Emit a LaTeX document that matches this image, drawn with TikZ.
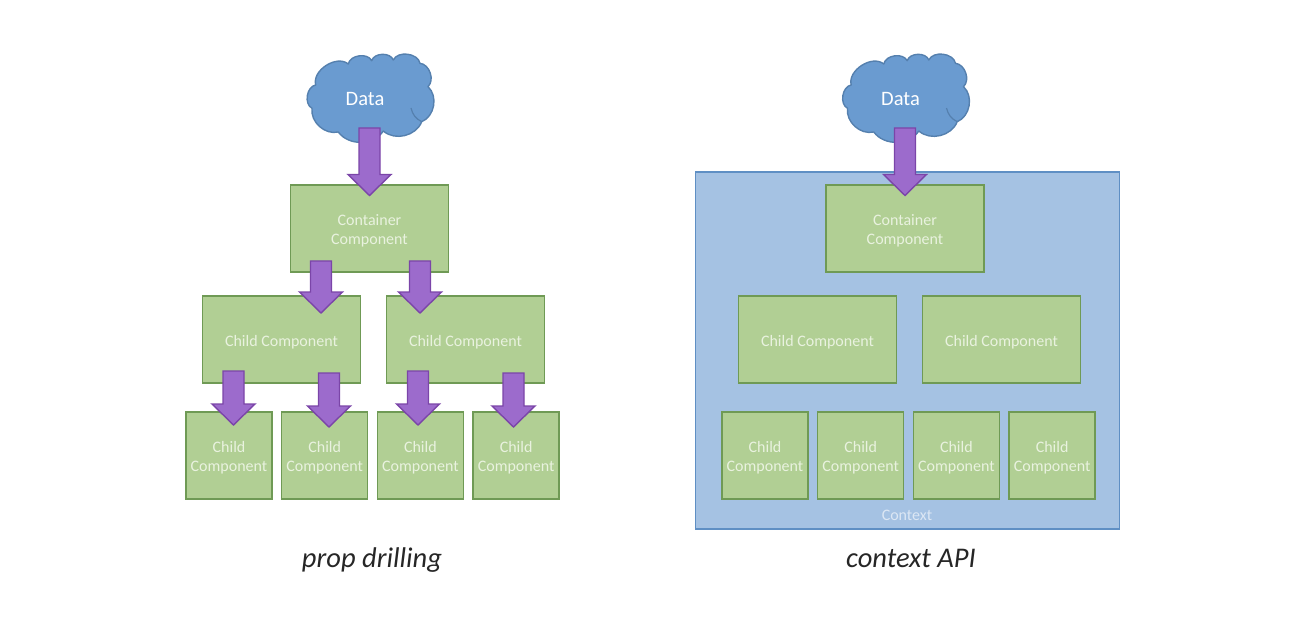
\documentclass[tikz,border=0pt]{standalone}
\usepackage{fontspec}
\setmainfont{Carlito}
\usetikzlibrary{arrows.meta,positioning,calc}
\definecolor{cloudblue}{HTML}{6A9BD0}
\definecolor{cloudline}{HTML}{5580AE}
\definecolor{boxgreen}{HTML}{B1CF94}
\definecolor{boxline}{HTML}{6F9A55}
\definecolor{boxtext}{HTML}{E9F2DF}
\definecolor{ctxblue}{HTML}{A5C2E3}
\definecolor{ctxline}{HTML}{5F8FC4}
\definecolor{ctxtext}{HTML}{DCE7F4}
\definecolor{flowfill}{HTML}{9C6BCC}
\definecolor{flowline}{HTML}{7B45A8}
\newcommand{\lowline}{\rule{0pt}{16pt}}
\tikzstyle{comp} = [draw=boxline,fill=boxgreen,text=boxtext,line width=1.4pt,align=center,
	font=\fontsize{16}{19}\selectfont,outer sep=0pt,inner sep=0pt,
	execute at begin node={\rule{0pt}{17pt}}]
\tikzstyle{wide} = [comp,minimum width=158pt,minimum height=87pt]
\tikzstyle{small} = [comp,minimum width=86pt,minimum height=87pt]
\tikzstyle{datacloud} = [text=white,font=\fontsize{20.5}{24}\selectfont,inner sep=0pt]
\tikzstyle{caption} = [font=\fontsize{28.5}{30}\selectfont\itshape,text=black!85,anchor=base]
\tikzstyle{flow} = [draw=flowline,fill=flowfill,line width=1.4pt,line join=miter,
	to path={let \p1=(\tikztostart),\p2=(\tikztotarget) in
		(\x1-10.5pt,\y1) -- (\x1+10.5pt,\y1) -- (\x1+10.5pt,\y2+21pt) -- (\x1+21.5pt,\y2+21pt)
		-- (\x1,\y2) -- (\x1-21.5pt,\y2+21pt) -- (\x1-10.5pt,\y2+21pt) -- cycle}]
\tikzset{
	puff/.style={bend left=#1,looseness=1},
	cloudoutline/.pic={
		\draw[draw=cloudline,fill=cloudblue,line width=1.4pt,line join=round]
			(-54.3,-14) to[puff=72] (-21.7,-35) to[puff=72] (1.7,-38.3) to[puff=72] (23.3,-39)
			to[puff=72] (50,-35.7) to[puff=65] (58,-12.3) to[puff=58] (51.7,22.7)
			to[puff=55] (13.3,32) to[puff=55] (-31.7,33) to[puff=55] (-58,9.3)
			to[puff=72] cycle;
		\draw[draw=cloudline,line width=1.2pt] (51.7,22.7) to[bend left=25] (41,9);
	}
}

\begin{document}
\begin{tikzpicture}[x=1pt,y=-1pt]
	\useasboundingbox (0,0) rectangle (1311,628);

	% prop drilling
	\pic at (370,99) {cloudoutline};
	\node[datacloud] (data) at (365,99) {Data};
	\node[wide] (container) at (369.5,228.5) {\lowline Container\\Component};
	\node[wide] (child1) at (281.5,339.5) {Child Component};
	\node[wide,right=26pt of child1] (child2) {Child Component};
	\node[small] (leaf1) at (229,455.5) {\lowline Child\\Component};
	\node[small,right=9.7pt of leaf1] (leaf2) {\lowline Child\\Component};
	\node[small,right=9.7pt of leaf2] (leaf3) {\lowline Child\\Component};
	\node[small,right=9.7pt of leaf3] (leaf4) {\lowline Child\\Component};
	\node[caption] (propcap) at (372,567) {prop drilling};

	% context API
	\node[draw=ctxline,fill=ctxblue,line width=1.4pt,minimum width=424pt,minimum height=357pt,outer sep=0pt] (ctx) at (907.5,350.5) {};
	\node[text=ctxtext,font=\fontsize{16}{18}\selectfont] (ctxlabel) at (907,515) {Context};
	\pic at (905.5,99) {cloudoutline};
	\node[datacloud] (datab) at (900.5,99) {Data};
	\node[wide] (containerb) at (905,228.5) {\lowline Container\\Component};
	\node[wide] (childb1) at (817.5,339.5) {Child Component};
	\node[wide,right=26pt of childb1] (childb2) {Child Component};
	\node[small] (leafb1) at (765,455.5) {\lowline Child\\Component};
	\node[small,right=9.7pt of leafb1] (leafb2) {\lowline Child\\Component};
	\node[small,right=9.7pt of leafb2] (leafb3) {\lowline Child\\Component};
	\node[small,right=9.7pt of leafb3] (leafb4) {\lowline Child\\Component};
	\node[caption] (ctxcap) at (911,567) {context API};

	% Arrows
	\draw[flow] ([xshift=4.5pt,yshift=-29pt]data.center) to ([yshift=-10.5pt]container.north);
	\draw[flow] ([xshift=-48.5pt,yshift=11pt]container.south) to ([xshift=39.5pt,yshift=-17pt]child1.north);
	\draw[flow] ([xshift=50.5pt,yshift=11pt]container.south) to ([xshift=-46pt,yshift=-17pt]child2.north);
	\draw[flow] ([xshift=-48pt,yshift=12pt]child1.south) to ([xshift=4.5pt,yshift=-13pt]leaf1.north);
	\draw[flow] ([xshift=47.5pt,yshift=10pt]child1.south) to ([xshift=4.5pt,yshift=-15pt]leaf2.north);
	\draw[flow] ([xshift=-47.5pt,yshift=12pt]child2.south) to ([xshift=-2pt,yshift=-13pt]leaf3.north);
	\draw[flow] ([xshift=48pt,yshift=10pt]child2.south) to ([xshift=-2.5pt,yshift=-15pt]leaf4.north);
	\draw[flow] ([xshift=4.5pt,yshift=-29pt]datab.center) to ([yshift=-10.5pt]containerb.north);
\end{tikzpicture}
\end{document}
